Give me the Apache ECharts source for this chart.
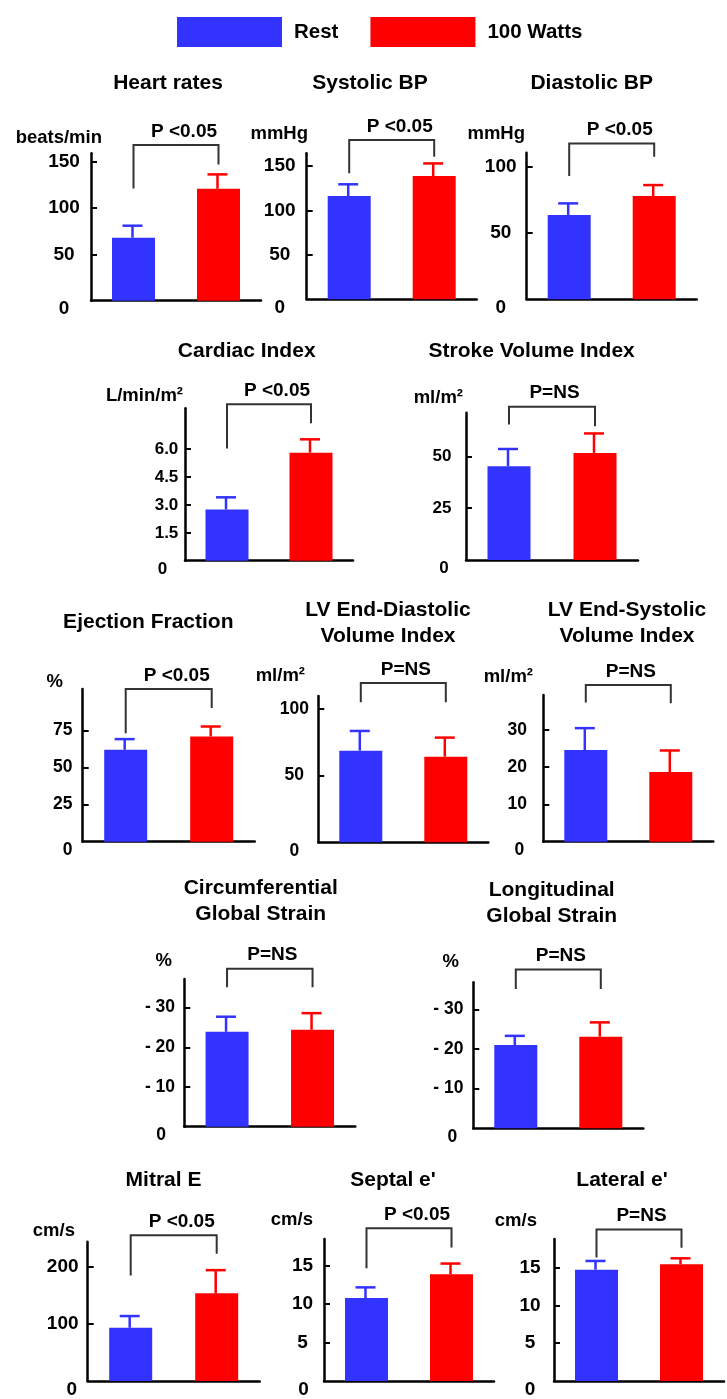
<!DOCTYPE html>
<html><head><meta charset="utf-8">
<script src="https://cdn.jsdelivr.net/npm/echarts@6/dist/echarts.min.js"></script>
<style>html,body{margin:0;padding:0;background:#fff}#c{width:727px;height:1399px}</style>
</head><body><div id="c"></div>
<script>
// ---------- data ----------
const categories = ['Rest', '100 Watts'];
const panelTitles = ['Heart rates', 'Systolic BP', 'Diastolic BP', 'Cardiac Index', 'Stroke Volume Index',
  'Ejection Fraction', 'LV End-Diastolic\nVolume Index', 'LV End-Systolic\nVolume Index',
  'Circumferential\nGlobal Strain', 'Longitudinal\nGlobal Strain', 'Mitral E', "Septal e'", "Lateral e'"];
const panelUnits = ['beats/min', 'mmHg', 'mmHg', 'L/min/m²', 'ml/m²', '%', 'ml/m²', 'ml/m²', '%', '%', 'cm/s', 'cm/s', 'cm/s'];
const restMean  = [68.1, 116.3, 63.5, 2.76, 45.2, 62.0, 68.7, 24.6, -23.9, -21.0, 93.3, 10.8, 14.7];
const restSD    = [13.0, 13.2, 8.8, 0.65, 8.3, 7.2, 14.8, 5.9, 3.8, 2.3, 20.6, 1.4, 1.15];
const wattsMean = [121.0, 138.8, 77.8, 5.81, 51.6, 71.0, 64.2, 18.7, -24.4, -23.1, 153.8, 13.9, 15.4];
const wattsSD   = [15.6, 14.2, 8.3, 0.72, 9.4, 6.7, 14.3, 5.8, 4.2, 3.6, 40.6, 1.4, 0.8];
const pLabels = ['P <0.05', 'P <0.05', 'P <0.05', 'P <0.05', 'P=NS', 'P <0.05', 'P=NS', 'P=NS', 'P=NS', 'P=NS', 'P <0.05', 'P <0.05', 'P=NS'];
const axisEnd = [159.4, 164.4, 110.5, 8.2, 71, 103, 109.7, 39.4, -37.2, -36.8, 244.3, 18.5, 18.75];
const yTicks = [[0, 50, 100, 150], [0, 50, 100, 150], [0, 50, 100], [0, 1.5, 3, 4.5, 6], [0, 25, 50],
  [0, 25, 50, 75], [0, 50, 100], [0, 10, 20, 30], [0, -10, -20, -30], [0, -10, -20, -30],
  [0, 100, 200], [0, 5, 10, 15], [0, 5, 10, 15]];
const bracketTop      = [168.3, 179.4, 117.5, 8.42, 73.9, 103, 119.5, 42.1, -39.8, -40, 255.5, 19.9, 20];
const bracketLeftEnd  = [121.4, 141.9, 92.9, 6.04, 65.3, 73.2, 105, 37.4, -35.1, -35.1, 185, 14.7, 16.3];
const bracketRightEnd = [147.4, 160.6, 107.5, 7.39, 64.5, 90.1, 105, 37.2, -35.1, -35.1, 223.3, 17.4, 17.6];

// ---------- layout (px) ----------
// [axis x, axis top, grid width, axis bottom]
const boxes = [
  [91, 153.3, 170, 300.7], [306.7, 153.3, 170, 299.3], [526.7, 152.7, 170, 299.3],
  [185, 408.3, 168, 560.7], [466, 412.7, 172, 560],
  [82.7, 689, 172, 841.7], [318.3, 696, 170, 842.3], [543.3, 695, 170, 841.7],
  [184.3, 979, 171, 1126.7], [473.3, 982.3, 170, 1128.3],
  [87.7, 1241.7, 172, 1388.3], [324, 1239, 170, 1386.7], [554, 1239, 170, 1386]
];
const rowOf = [0, 0, 0, 1, 1, 2, 2, 2, 3, 3, 4, 4, 4];
const tickFont = [19, 17, 17.5, 17.5, 19];
const labelMargin = [27, 27, 26, 18.5, 24, 20, 24, 26, 24.3, 25, 25, 21.5, 24];
const zeroShift = [0, 0, 0, -4, 2, 5, 0, 2, 1, 4, 9, 1, 0];
const titlePos = [[168, 83.3], [370, 83.3], [591.7, 83.3], [246.7, 351.7], [531.7, 351.7], [148.3, 622.3],
  [388, 623.7], [627, 623.7], [260.7, 901], [551.7, 903], [163.5, 1180.7], [393, 1180.7], [622, 1180.7]];
const unitPos = [[102, 138], [308, 134], [525, 134], [183, 396], [463, 398], [63, 681.7], [305, 675.7], [533, 677.3],
  [172, 960.7], [459, 961.7], [75, 1230.7], [313, 1220], [537, 1220.7]];

const FONT = '"Liberation Sans", Arial, Helvetica, sans-serif';
const BLUE = '#3333ff', RED = '#ff0000';

const grids = [], xAxes = [], yAxes = [], series = [], graphics = [];
boxes.forEach((b, i) => {
  const neg = axisEnd[i] < 0;
  const fs = tickFont[rowOf[i]];
  grids.push({ left: b[0], top: b[1], width: b[2], height: b[3] - b[1] });
  xAxes.push({
    type: 'category', gridIndex: i, data: categories, boundaryGap: true,
    axisLine: { onZero: false, lineStyle: { color: '#000', width: 2.5 } },
    axisTick: { show: false }, axisLabel: { show: false }
  });
  const isCI = i === 3;
  const zs = zeroShift[i];
  yAxes.push({
    type: 'value', gridIndex: i,
    min: neg ? axisEnd[i] : 0, max: neg ? 0 : axisEnd[i], inverse: neg,
    splitLine: { show: false },
    axisLine: { show: true, lineStyle: { color: '#000', width: 2.5 } },
    axisTick: { show: true, inside: true, length: 6, lineStyle: { color: '#000', width: 2 }, customValues: yTicks[i].filter(v => v !== 0) },
    axisLabel: {
      customValues: yTicks[i], margin: labelMargin[i], align: 'center', color: '#000',
      fontSize: fs, fontWeight: 'bold', fontFamily: FONT,
      formatter: v => {
        if (v === 0) return '{z|0}';
        if (neg) return '- ' + Math.abs(v);
        return isCI ? v.toFixed(1) : String(v);
      },
      rich: { z: { fontSize: fs, fontWeight: 'bold', fontFamily: FONT, color: '#000',
        padding: [17, zs < 0 ? -2 * zs : 0, 0, zs > 0 ? 2 * zs : 0] } }
    }
  });
  const sgn = neg ? -1 : 1;
  series.push({
    name: 'Rest', type: 'bar', xAxisIndex: i, yAxisIndex: i, barWidth: 43, barGap: '-100%',
    itemStyle: { color: BLUE }, data: [restMean[i], '-'], silent: true
  });
  series.push({
    name: '100 Watts', type: 'bar', xAxisIndex: i, yAxisIndex: i, barWidth: 43, barGap: '-100%',
    itemStyle: { color: RED }, data: ['-', wattsMean[i]], silent: true
  });
  series.push({
    type: 'custom', xAxisIndex: i, yAxisIndex: i, clip: false, silent: true, z: 3,
    encode: { x: 0, y: [1, 2] },
    data: [[0, restMean[i], restMean[i] + sgn * restSD[i]], [1, wattsMean[i], wattsMean[i] + sgn * wattsSD[i]]],
    renderItem: (params, api) => {
      const x = api.value(0);
      const p0 = api.coord([x, api.value(1)]);
      const p1 = api.coord([x, api.value(2)]);
      const c = x === 0 ? BLUE : RED;
      const cx = p0[0] - 1;
      return { type: 'group', children: [
        { type: 'line', shape: { x1: cx, y1: p0[1], x2: cx, y2: p1[1] }, style: { stroke: c, lineWidth: 2.5 } },
        { type: 'line', shape: { x1: cx - 10, y1: p1[1], x2: cx + 10, y2: p1[1] }, style: { stroke: c, lineWidth: 2.5 } }
      ] };
    }
  });
  series.push({
    type: 'custom', xAxisIndex: i, yAxisIndex: i, clip: false, silent: true, z: 3,
    encode: { x: 0, y: 1 },
    data: [[0, bracketTop[i], bracketLeftEnd[i], bracketRightEnd[i]]],
    renderItem: (params, api) => {
      const lt = api.coord([0, api.value(1)]);
      const lb = api.coord([0, api.value(2)]);
      const rt = api.coord([1, api.value(1)]);
      const rb = api.coord([1, api.value(3)]);
      const lab = pLabels[i];
      return { type: 'group', children: [
        { type: 'polyline', shape: { points: [lb, lt, rt, rb] }, style: { stroke: '#333', lineWidth: 2, fill: 'none' } },
        { type: 'text', x: (lt[0] + rt[0]) / 2 + (lab.indexOf('<') > 0 ? 8 : 2.5), y: lt[1] - 13.5,
          style: { text: lab, fill: '#000', font: 'bold 19px ' + FONT, align: 'center', verticalAlign: 'middle' } }
      ] };
    }
  });
  graphics.push({
    type: 'text', x: titlePos[i][0], y: titlePos[i][1], silent: true,
    style: { text: panelTitles[i], fill: '#000', font: 'bold 21px ' + FONT, align: 'center', verticalAlign: 'middle', lineHeight: 26 }
  });
  graphics.push({
    type: 'text', x: unitPos[i][0], y: unitPos[i][1], silent: true,
    style: { text: panelUnits[i], fill: '#000', font: 'bold 18.5px ' + FONT, align: 'right', verticalAlign: 'middle' }
  });
});

const chart = echarts.init(document.getElementById('c'), null, { renderer: 'canvas' });
chart.setOption({
  backgroundColor: '#fff',
  animation: false,
  legend: {
    data: categories, left: 172, top: 12, itemWidth: 105, itemHeight: 30, itemGap: 32, icon: 'rect',
    selectedMode: false,
    textStyle: { fontSize: 20.5, fontWeight: 'bold', fontFamily: FONT, color: '#000', padding: [0, 0, 0, 7] }
  },
  grid: grids, xAxis: xAxes, yAxis: yAxes, series: series, graphic: graphics
});
</script></body></html>
